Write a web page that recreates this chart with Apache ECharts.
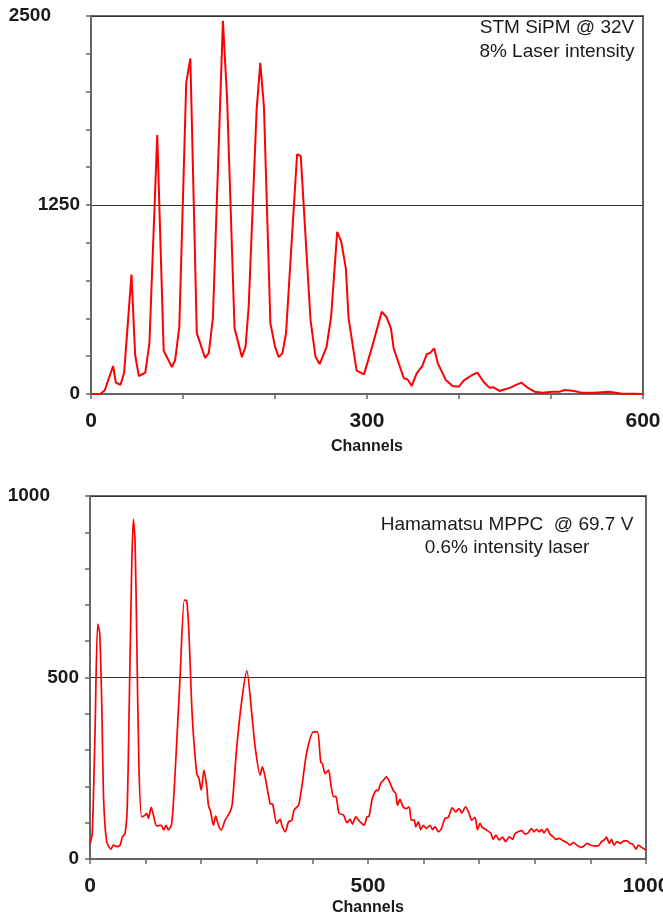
<!DOCTYPE html>
<html>
<head>
<meta charset="utf-8">
<title>SiPM / MPPC photoelectron spectra</title>
<script src="https://cdn.jsdelivr.net/npm/echarts@6/dist/echarts.min.js"></script>
<style>
  html, body { margin: 0; padding: 0; background: #fff; }
  #chart { width: 663px; height: 916px; }
</style>
</head>
<body>
<div id="chart"></div>
<script>
// STM SiPM @ 32V, 8% laser intensity
const stmChannels = [0, 10, 15, 24, 27, 32, 36, 44, 48, 52, 59, 63.5, 72, 79, 88, 91.5, 96, 103.5, 108, 115, 124, 128, 132.5,
  143.4, 148, 156, 164, 168, 171.4, 180, 184, 188, 195, 200, 204, 208, 212, 224, 228, 238.6, 244, 248.5, 256, 261, 267.6,
  272, 277, 280, 288.7, 296.7, 305, 316, 321, 326, 329, 340, 344, 348.6, 354, 360, 365, 369, 373, 377, 385.6, 393, 400,
  405, 413, 420, 426.6, 433, 437.5, 444, 451, 456, 462, 464, 468, 474, 482, 491, 501, 509, 515, 525, 533, 547, 563, 576, 600];
const stmCounts = [0, 0, 25, 185, 75, 60, 140, 790, 258, 119, 141, 337, 1712, 286, 178, 225, 445, 2058, 2219, 403, 238, 270, 502,
  2468, 1943, 436, 244, 313, 577, 1877, 2190, 1899, 468, 313, 244, 269, 402, 1586, 1573, 489, 247, 198, 310, 511, 1073,
  1007, 831, 500, 154, 130, 300, 544, 511, 434, 302, 104, 97, 53, 137, 185, 264, 273, 302, 203, 93, 53, 48,
  88, 121, 141, 81, 42, 44, 20, 33, 42, 60, 53, 75, 44, 15, 9, 15, 15, 26, 20, 9, 9, 15, 4, 0];

// Hamamatsu MPPC @ 69.7 V, 0.6% intensity laser
const mppcChannels = [0, 4, 9, 13.8, 17.4, 21, 24.6, 30, 37.8, 42, 48, 54, 58, 63, 67, 70.7, 75, 78, 81, 84, 88, 93, 99, 102,
  105, 110, 114, 120, 128, 132.5, 136.7, 141, 147, 153, 162, 169.7, 174, 178, 184, 192, 196, 200, 205, 210, 213, 217, 222,
  226, 231, 236, 243, 252, 256, 264, 273, 282, 291, 297, 306, 310, 315, 324, 328.5, 336, 342, 345, 351, 357, 363, 367, 375,
  381, 390, 402, 409, 415, 418, 423, 429, 433, 438, 442, 448, 456, 462, 468, 472, 478, 486, 493, 498, 502, 507, 511, 515.6,
  518, 523, 527, 533, 539, 545, 550, 553, 557.5, 563, 569, 574, 578, 583, 586, 590.5, 595, 599.5, 605, 611.5, 616, 620.5,
  626.5, 632, 638.5, 644.5, 651.6, 657.6, 663.7, 668.5, 675.5, 681.7, 686.5, 692.4, 697, 701.5, 705.6, 713, 721, 725, 730,
  736, 742, 747.6, 754, 760, 764, 770, 776.4, 782, 788, 794, 798.6, 803, 808, 812, 816.5, 822, 827, 833, 838, 844, 851,
  858, 863, 869, 876, 882.5, 888.5, 894, 900.5, 906.5, 914, 920, 926, 929, 934, 938, 942.5, 948, 954, 960, 966, 971, 976,
  982, 986, 992, 998, 1000];
const mppcCounts = [43, 70, 346, 647, 624, 437, 162, 48, 27, 38, 34, 38, 60, 70, 144, 437, 803, 936, 876, 620, 254, 116, 121, 126,
  112, 142, 121, 91, 93, 80, 93, 80, 98, 235, 501, 713, 711, 620, 391, 235, 222, 190, 245, 199, 148, 130, 93,
  118, 93, 80, 107, 130, 153, 309, 437, 519, 400, 309, 231, 254, 226, 153, 151, 98, 109, 93, 75, 102, 107, 135, 148,
  199, 295, 350, 350, 267, 263, 235, 245, 208, 171, 173, 126, 121, 100, 109, 96, 116, 102, 93, 116, 118, 162, 180, 190,
  188, 210, 215, 226, 212, 190, 180, 148, 164, 144, 139, 144, 107, 107, 89, 102, 81, 93, 84, 93, 81, 89,
  75, 84, 112, 115, 141, 130, 139, 127, 144, 126, 107, 115, 81, 98, 87, 80, 71, 54, 66,
  52, 60, 48, 61, 54, 69, 75, 78, 69, 72, 84, 75, 82, 75, 81, 72, 84, 69, 61, 54, 57, 50,
  45, 38, 45, 38, 32, 36, 43, 38, 36, 36, 48, 54, 60, 43, 54, 38, 48, 43, 50, 50, 43, 41,
  27, 38, 32, 27, 25];

const topYTicks = [0, 1250, 2500];
const topXTicks = [0, 300, 600];
const bottomYTicks = [0, 500, 1000];
const bottomXTicks = [0, 500, 1000];

const font = "'Liberation Sans', Arial, sans-serif";
const axisGray = "#666666";
const textColor = "#1a1a1a";

const makeXAxis = (gridIndex, ticks, nameGap) => ({
  type: "value",
  gridIndex,
  min: ticks[0],
  max: ticks[ticks.length - 1],
  interval: ticks[1] - ticks[0],
  name: "Channels",
  nameLocation: "middle",
  nameGap,
  nameTextStyle: { fontFamily: font, fontWeight: "bold", fontSize: 16, color: textColor },
  axisLine: { show: true, lineStyle: { color: axisGray, width: 2 } },
  axisTick: { show: true, length: 5, lineStyle: { color: axisGray, width: 1.5 } },
  minorTick: { show: true, splitNumber: gridIndex === 0 ? 3 : 5, length: 5, lineStyle: { color: axisGray, width: 1.5 } },
  axisLabel: {
    fontFamily: font, fontWeight: "bold", fontSize: 21, color: textColor, margin: 17,
    formatter: (v) => String(v),
  },
  splitLine: { show: false },
});

// the top label of each y axis sits further left in the original figure
const makeYAxis = (gridIndex, ticks) => ({
  type: "value",
  gridIndex,
  min: ticks[0],
  max: ticks[ticks.length - 1],
  interval: ticks[1] - ticks[0],
  name: "Counts",
  nameLocation: "middle",
  nameRotate: 90,
  nameGap: 67,
  nameTextStyle: { fontFamily: font, fontWeight: "bold", fontSize: 15, color: textColor },
  axisLine: { show: true, lineStyle: { color: axisGray, width: 2 } },
  axisTick: { show: true, length: 5, lineStyle: { color: axisGray, width: 1.5 } },
  minorTick: { show: true, splitNumber: 5, length: 5, lineStyle: { color: axisGray, width: 1.5 } },
  axisLabel: {
    fontFamily: font, fontWeight: "bold", fontSize: 19, color: textColor, margin: 11,
    formatter: (v) => (v === ticks[ticks.length - 1] ? "{top|" + v + "}" : String(v)),
    rich: { top: { fontFamily: font, fontWeight: "bold", fontSize: 19, color: textColor, padding: [0, 29, 0, 0] } },
  },
  splitLine: { show: true, lineStyle: { color: "#333", width: 1 } },
});

const zip = (xs, ys) => xs.map((x, i) => [x, ys[i]]);

const chart = echarts.init(document.getElementById("chart"), null, { renderer: "canvas" });

chart.setOption({
  animation: false,
  backgroundColor: "#fff",
  grid: [
    { left: 91, top: 16, width: 552, height: 378, show: true, borderColor: axisGray, borderWidth: 2, outerBoundsMode: "none", containLabel: false },
    { left: 90, top: 496, width: 556, height: 363, show: true, borderColor: axisGray, borderWidth: 2, outerBoundsMode: "none", containLabel: false },
  ],
  xAxis: [makeXAxis(0, topXTicks, 45), makeXAxis(1, bottomXTicks, 41)],
  yAxis: [makeYAxis(0, topYTicks), makeYAxis(1, bottomYTicks)],
  series: [
    {
      type: "line",
      xAxisIndex: 0,
      yAxisIndex: 0,
      data: zip(stmChannels, stmCounts),
      showSymbol: false,
      lineStyle: { color: "#ff0000", width: 2 },
    },
    {
      type: "line",
      xAxisIndex: 1,
      yAxisIndex: 1,
      data: zip(mppcChannels, mppcCounts),
      showSymbol: false,
      smooth: 0.25,
      lineStyle: { color: "#ff0000", width: 1.7 },
    },
  ],
  graphic: [
    {
      type: "text",
      x: 557,
      y: 16,
      style: { text: "STM SiPM @ 32V\n8% Laser intensity", align: "center", verticalAlign: "top", fontFamily: font, fontSize: 19, lineHeight: 24, fill: textColor },
    },
    {
      type: "text",
      x: 507,
      y: 513,
      style: { text: "Hamamatsu MPPC  @ 69.7 V\n0.6% intensity laser", align: "center", verticalAlign: "top", fontFamily: font, fontSize: 19, lineHeight: 23, fill: textColor },
    },
  ],
});
</script>
</body>
</html>
